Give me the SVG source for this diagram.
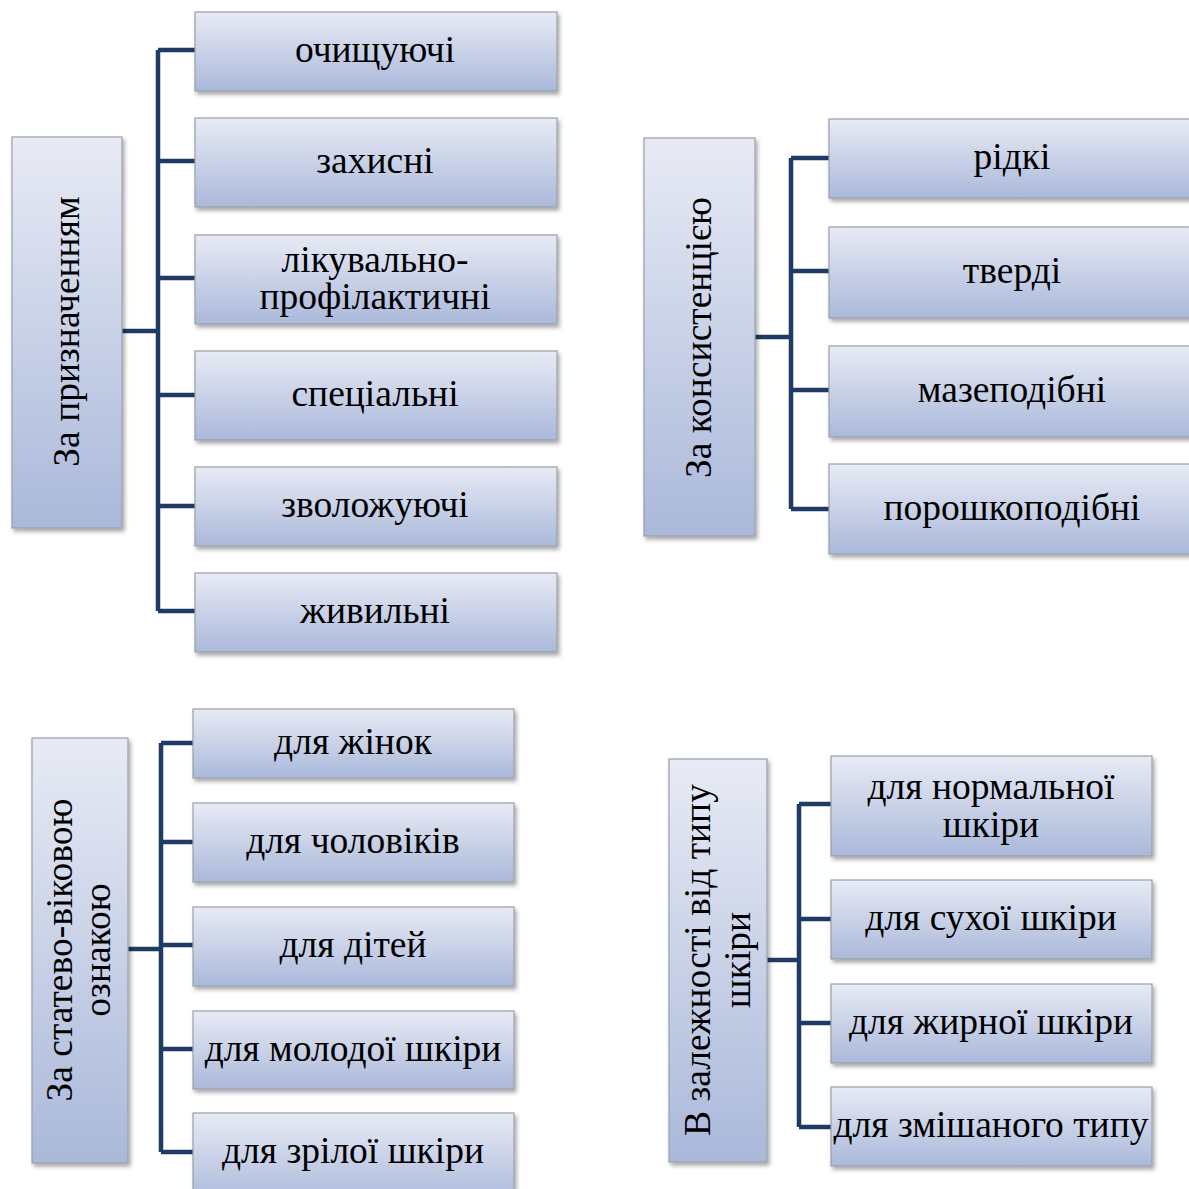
<svg xmlns="http://www.w3.org/2000/svg" width="1189" height="1189" viewBox="0 0 1189 1189">
<defs>
<linearGradient id="g" x1="0" y1="0" x2="0" y2="1">
<stop offset="0" stop-color="#e8ebf5"/>
<stop offset="1" stop-color="#aab8da"/>
</linearGradient>
<filter id="sh" x="-10%" y="-10%" width="130%" height="130%">
<feDropShadow dx="2" dy="3" stdDeviation="2" flood-color="#000" flood-opacity="0.35"/>
</filter>
</defs>
<style>
.b{fill:url(#g);stroke:#9a9ea8;stroke-width:1.2;filter:url(#sh)}
.t{font-family:"Liberation Serif","Times New Roman",serif;font-size:37.5px;fill:#000;text-anchor:middle}
.c{fill:none;stroke:#1f3a64;stroke-width:4.5;stroke-linejoin:miter}
</style>
<rect width="1189" height="1189" fill="#fff"/>
<g id="connectors">
<path class="c" d="M122 331H158M158 50V611M158 50H195M158 161H195M158 278H195M158 395H195M158 506H195M158 611H195"/>
<path class="c" d="M755 337H791M791 158V509M791 158H829M791 271H829M791 390H829M791 509H829"/>
<path class="c" d="M128 949H161M161 743V1152M161 743H193M161 842H193M161 945H193M161 1049H193M161 1152H193"/>
<path class="c" d="M767 960H799M799 804V1127M799 804H831M799 919H831M799 1023H831M799 1127H831"/>
</g>
<g id="p1"><rect class="b" x="12" y="137" width="110" height="391"/><text class="t" transform="translate(67,331.5) rotate(-90)" y="12">За призначенням</text></g>
<g id="n1"><rect class="b" x="195" y="12" width="362" height="79"/><text class="t" x="375" y="62">очищуючі</text></g>
<g id="n2"><rect class="b" x="195" y="118" width="362" height="89"/><text class="t" x="375" y="173">захисні</text></g>
<g id="n3"><rect class="b" x="195" y="235" width="362" height="89"/><text class="t" x="375" y="272">лікувально-</text><text class="t" x="375" y="309">профілактичні</text></g>
<g id="n4"><rect class="b" x="195" y="351" width="362" height="89"/><text class="t" x="375" y="406">спеціальні</text></g>
<g id="n5"><rect class="b" x="195" y="467" width="362" height="79"/><text class="t" x="375" y="517">зволожуючі</text></g>
<g id="n6"><rect class="b" x="195" y="573" width="362" height="79"/><text class="t" x="375" y="623">живильні</text></g>

<g id="p2"><rect class="b" x="644" y="138" width="111" height="398"/><text class="t" transform="translate(700,337.5) rotate(-90)" y="11">За консистенцією</text></g>
<g id="m1"><rect class="b" x="829" y="119" width="366" height="79"/><text class="t" x="1012" y="169">рідкі</text></g>
<g id="m2"><rect class="b" x="829" y="227" width="366" height="91"/><text class="t" x="1012" y="283">тверді</text></g>
<g id="m3"><rect class="b" x="829" y="346" width="366" height="91"/><text class="t" x="1012" y="402">мазеподібні</text></g>
<g id="m4"><rect class="b" x="829" y="464" width="366" height="90"/><text class="t" x="1012" y="520">порошкоподібні</text></g>

<g id="p3"><rect class="b" x="32" y="738" width="96" height="425"/><text class="t" transform="translate(61,950) rotate(-90)" y="11">За статево-віковою</text><text class="t" transform="translate(99,950) rotate(-90)" y="11">ознакою</text></g>
<g id="s1"><rect class="b" x="193" y="709" width="321" height="69"/><text class="t" x="353" y="754">для жінок</text></g>
<g id="s2"><rect class="b" x="193" y="803" width="321" height="79"/><text class="t" x="353" y="853">для чоловіків</text></g>
<g id="s3"><rect class="b" x="193" y="907" width="321" height="79"/><text class="t" x="353" y="957">для дітей</text></g>
<g id="s4"><rect class="b" x="193" y="1011" width="321" height="78"/><text class="t" x="353" y="1061">для молодої шкіри</text></g>
<g id="s5"><rect class="b" x="193" y="1113" width="321" height="90"/><text class="t" x="353" y="1163">для зрілої шкіри</text></g>

<g id="p4"><rect class="b" x="669" y="759" width="98" height="403"/><text class="t" transform="translate(699,960) rotate(-90)" y="11">В залежності від типу</text><text class="t" transform="translate(739,960) rotate(-90)" y="11">шкіри</text></g>
<g id="k1"><rect class="b" x="831" y="756" width="321" height="100"/><text class="t" x="991" y="799">для нормальної</text><text class="t" x="991" y="837">шкіри</text></g>
<g id="k2"><rect class="b" x="831" y="880" width="321" height="79"/><text class="t" x="991" y="930">для сухої шкіри</text></g>
<g id="k3"><rect class="b" x="831" y="984" width="321" height="79"/><text class="t" x="991" y="1034">для жирної шкіри</text></g>
<g id="k4"><rect class="b" x="831" y="1087" width="321" height="79"/><text class="t" x="991" y="1137">для змішаного типу</text></g>
</svg>
